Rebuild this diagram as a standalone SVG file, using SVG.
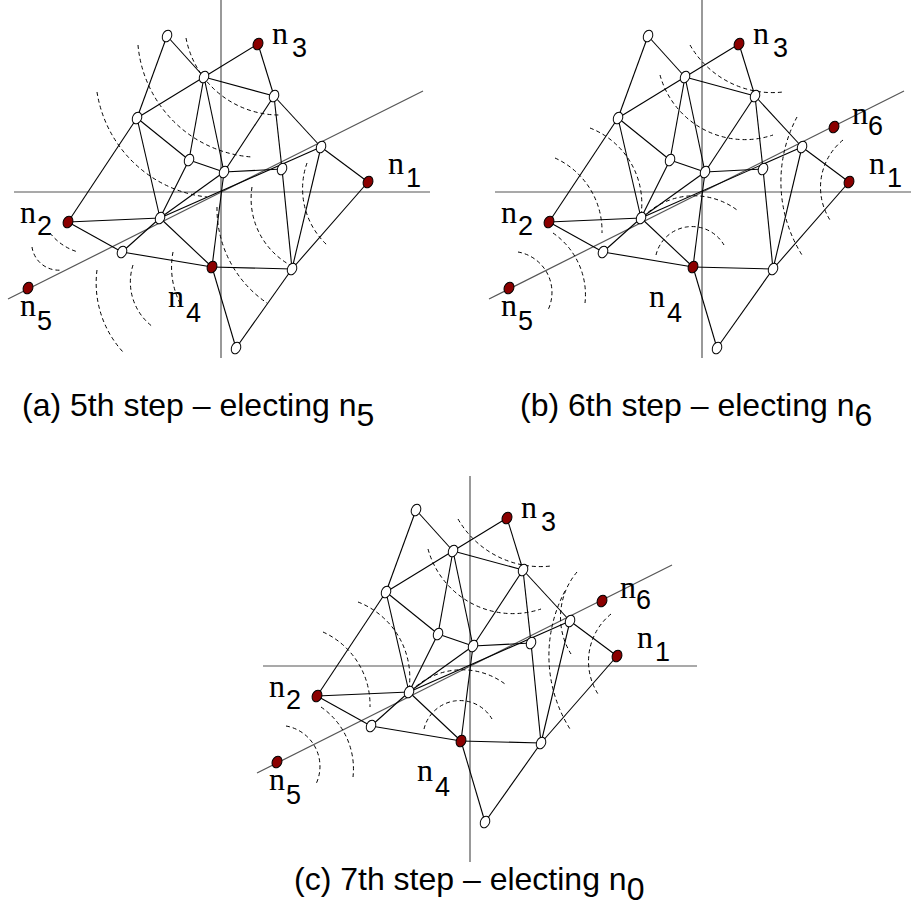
<svg xmlns="http://www.w3.org/2000/svg" width="917" height="919" viewBox="0 0 917 919">
<style>
.axis{stroke:#555;stroke-width:1.2;fill:none}
.arc{fill:none;stroke:#000;stroke-width:1;stroke-dasharray:4 3}
.wn{fill:#fff;stroke:#000;stroke-width:1}
.rn{fill:#8b0000;stroke:#000;stroke-width:1}
.ln{font-family:"Liberation Serif",serif;font-size:32px;fill:#000}
.ld{font-family:"Liberation Sans",sans-serif;font-size:27px;fill:#000}
.cap{font-family:"Liberation Sans",sans-serif;font-size:32px;fill:#000}
</style>
<defs>
<g id="edges-base" stroke="#000" stroke-width="1.1" fill="none">
<line x1="167" y1="36" x2="204" y2="77"/>
<line x1="167" y1="36" x2="137" y2="118"/>
<line x1="204" y1="77" x2="258" y2="44"/>
<line x1="204" y1="77" x2="137" y2="118"/>
<line x1="204" y1="77" x2="274" y2="96"/>
<line x1="204" y1="77" x2="189" y2="160"/>
<line x1="204" y1="77" x2="224" y2="172"/>
<line x1="258" y1="44" x2="274" y2="96"/>
<line x1="274" y1="96" x2="224" y2="172"/>
<line x1="274" y1="96" x2="282" y2="169"/>
<line x1="274" y1="96" x2="321" y2="147"/>
<line x1="137" y1="118" x2="189" y2="160"/>
<line x1="137" y1="118" x2="160" y2="218"/>
<line x1="137" y1="118" x2="68" y2="222"/>
<line x1="189" y1="160" x2="224" y2="172"/>
<line x1="189" y1="160" x2="160" y2="218"/>
<line x1="224" y1="172" x2="282" y2="169"/>
<line x1="224" y1="172" x2="212" y2="267"/>
<line x1="160" y1="218" x2="224" y2="172"/>
<line x1="160" y1="218" x2="321" y2="147"/>
<line x1="122" y1="252" x2="160" y2="218"/>
<line x1="68" y1="222" x2="160" y2="218"/>
<line x1="68" y1="222" x2="122" y2="252"/>
<line x1="122" y1="252" x2="212" y2="267"/>
<line x1="160" y1="218" x2="212" y2="267"/>
<line x1="282" y1="169" x2="292" y2="269"/>
<line x1="321" y1="147" x2="292" y2="269"/>
<line x1="321" y1="147" x2="368" y2="182"/>
<line x1="368" y1="182" x2="292" y2="269"/>
<line x1="292" y1="269" x2="212" y2="267"/>
<line x1="292" y1="269" x2="236" y2="348"/>
<line x1="212" y1="267" x2="236" y2="348"/>
</g>
</defs>

<!-- Panel (a) -->
<g id="panel-a">
<g id="a-axes">
<line class="axis" x1="221" y1="0" x2="221" y2="358"/>
<line class="axis" x1="14" y1="192" x2="430" y2="192"/>
<line class="axis" x1="8" y1="299" x2="423" y2="91"/>
</g>
<g id="a-arcs">
<path class="arc" d="M138,45 A123,123 0 0 0 252,157"/>
<path class="arc" d="M97,92 A125,125 0 0 0 207,197"/>
<path class="arc" d="M186,38 A95,95 0 0 0 280,115"/>
<path class="arc" d="M252,187 A76,76 0 0 0 290,265"/>
<path class="arc" d="M217,207 A114,114 0 0 0 267,303"/>
<path class="arc" d="M307,163 A77,77 0 0 0 327,245"/>
<path class="arc" d="M97,270 A102,102 0 0 0 123,352"/>
<path class="arc" d="M133,265 A56,56 0 0 0 153,327"/>
<path class="arc" d="M173,252 A81,81 0 0 0 182,307"/>
<path class="arc" d="M50,233 A55,55 0 0 0 78,252"/>
<path class="arc" d="M32,247 A27,27 0 0 0 62,270"/>
</g>
<g id="a-connectors"><use href="#edges-base"/></g>
<g id="a-A"><ellipse class="wn" cx="167" cy="36" rx="4.5" ry="6" transform="rotate(25 167 36)"/></g>
<g id="a-B"><ellipse class="wn" cx="204" cy="77" rx="4.5" ry="6" transform="rotate(25 204 77)"/></g>
<g id="a-C"><ellipse class="wn" cx="274" cy="96" rx="4.5" ry="6" transform="rotate(25 274 96)"/></g>
<g id="a-D"><ellipse class="wn" cx="137" cy="118" rx="4.5" ry="6" transform="rotate(25 137 118)"/></g>
<g id="a-E"><ellipse class="wn" cx="189" cy="160" rx="4.5" ry="6" transform="rotate(25 189 160)"/></g>
<g id="a-F"><ellipse class="wn" cx="224" cy="172" rx="4.5" ry="6" transform="rotate(25 224 172)"/></g>
<g id="a-G"><ellipse class="wn" cx="282" cy="169" rx="4.5" ry="6" transform="rotate(25 282 169)"/></g>
<g id="a-H"><ellipse class="wn" cx="321" cy="147" rx="4.5" ry="6" transform="rotate(25 321 147)"/></g>
<g id="a-I"><ellipse class="wn" cx="160" cy="218" rx="4.5" ry="6" transform="rotate(25 160 218)"/></g>
<g id="a-J"><ellipse class="wn" cx="122" cy="252" rx="4.5" ry="6" transform="rotate(25 122 252)"/></g>
<g id="a-K"><ellipse class="wn" cx="292" cy="269" rx="4.5" ry="6" transform="rotate(25 292 269)"/></g>
<g id="a-L"><ellipse class="wn" cx="236" cy="348" rx="4.5" ry="6" transform="rotate(25 236 348)"/></g>
<g id="a-n3"><ellipse class="rn" cx="258" cy="44" rx="4.7" ry="6" transform="rotate(25 258 44)"/><text class="ln" x="272" y="44">n</text><text class="ld" x="292" y="57">3</text></g>
<g id="a-n1"><ellipse class="rn" cx="368" cy="182" rx="4.7" ry="6" transform="rotate(25 368 182)"/><text class="ln" x="388" y="174">n</text><text class="ld" x="406" y="187">1</text></g>
<g id="a-n2"><ellipse class="rn" cx="68" cy="222" rx="4.7" ry="6" transform="rotate(25 68 222)"/><text class="ln" x="20" y="223">n</text><text class="ld" x="37" y="235">2</text></g>
<g id="a-n4"><ellipse class="rn" cx="212" cy="267" rx="4.7" ry="6" transform="rotate(25 212 267)"/><text class="ln" x="168" y="307">n</text><text class="ld" x="186" y="322">4</text></g>
<g id="a-n5"><ellipse class="rn" cx="28" cy="288" rx="4.7" ry="6" transform="rotate(25 28 288)"/><text class="ln" x="20" y="316">n</text><text class="ld" x="37" y="330">5</text></g>
</g>

<!-- Panel (b) -->
<g id="panel-b" transform="translate(481,0)">
<g id="b-axes">
<line class="axis" x1="221" y1="0" x2="221" y2="358"/>
<line class="axis" x1="14" y1="192" x2="430" y2="192"/>
<line class="axis" x1="8" y1="299" x2="423" y2="91"/>
</g>
<g id="b-arcs">
<path class="arc" d="M209,45 A95,95 0 0 0 302,92"/>
<path class="arc" d="M179,75 A88,88 0 0 0 292,135"/>
<path class="arc" d="M109,128 A81,81 0 0 1 160,215"/>
<path class="arc" d="M74,158 A80,80 0 0 1 121,233"/>
<path class="arc" d="M316,117 A138,138 0 0 0 321,255"/>
<path class="arc" d="M362,140 A61,61 0 0 0 349,220"/>
<path class="arc" d="M162,217 A72,72 0 0 1 256,210"/>
<path class="arc" d="M175,255 A37,37 0 0 1 243,245"/>
<path class="arc" d="M37,252 A41,41 0 0 1 67,310"/>
<path class="arc" d="M72,233 A75,75 0 0 1 104,303"/>
</g>
<g id="b-connectors"><use href="#edges-base"/></g>
<g id="b-A"><ellipse class="wn" cx="167" cy="36" rx="4.5" ry="6" transform="rotate(25 167 36)"/></g>
<g id="b-B"><ellipse class="wn" cx="204" cy="77" rx="4.5" ry="6" transform="rotate(25 204 77)"/></g>
<g id="b-C"><ellipse class="wn" cx="274" cy="96" rx="4.5" ry="6" transform="rotate(25 274 96)"/></g>
<g id="b-D"><ellipse class="wn" cx="137" cy="118" rx="4.5" ry="6" transform="rotate(25 137 118)"/></g>
<g id="b-E"><ellipse class="wn" cx="189" cy="160" rx="4.5" ry="6" transform="rotate(25 189 160)"/></g>
<g id="b-F"><ellipse class="wn" cx="224" cy="172" rx="4.5" ry="6" transform="rotate(25 224 172)"/></g>
<g id="b-G"><ellipse class="wn" cx="282" cy="169" rx="4.5" ry="6" transform="rotate(25 282 169)"/></g>
<g id="b-H"><ellipse class="wn" cx="321" cy="147" rx="4.5" ry="6" transform="rotate(25 321 147)"/></g>
<g id="b-I"><ellipse class="wn" cx="160" cy="218" rx="4.5" ry="6" transform="rotate(25 160 218)"/></g>
<g id="b-J"><ellipse class="wn" cx="122" cy="252" rx="4.5" ry="6" transform="rotate(25 122 252)"/></g>
<g id="b-K"><ellipse class="wn" cx="292" cy="269" rx="4.5" ry="6" transform="rotate(25 292 269)"/></g>
<g id="b-L"><ellipse class="wn" cx="236" cy="348" rx="4.5" ry="6" transform="rotate(25 236 348)"/></g>
<g id="b-n3"><ellipse class="rn" cx="258" cy="44" rx="4.7" ry="6" transform="rotate(25 258 44)"/><text class="ln" x="272" y="44">n</text><text class="ld" x="292" y="57">3</text></g>
<g id="b-n6"><ellipse class="rn" cx="353" cy="127" rx="4.7" ry="6" transform="rotate(25 353 127)"/><text class="ln" x="371" y="124">n</text><text class="ld" x="387" y="135">6</text></g>
<g id="b-n1"><ellipse class="rn" cx="368" cy="182" rx="4.7" ry="6" transform="rotate(25 368 182)"/><text class="ln" x="388" y="174">n</text><text class="ld" x="406" y="187">1</text></g>
<g id="b-n2"><ellipse class="rn" cx="68" cy="222" rx="4.7" ry="6" transform="rotate(25 68 222)"/><text class="ln" x="20" y="223">n</text><text class="ld" x="37" y="235">2</text></g>
<g id="b-n4"><ellipse class="rn" cx="212" cy="267" rx="4.7" ry="6" transform="rotate(25 212 267)"/><text class="ln" x="168" y="307">n</text><text class="ld" x="186" y="322">4</text></g>
<g id="b-n5"><ellipse class="rn" cx="28" cy="288" rx="4.7" ry="6" transform="rotate(25 28 288)"/><text class="ln" x="20" y="316">n</text><text class="ld" x="37" y="330">5</text></g>
</g>

<!-- Panel (c) -->
<g id="panel-c" transform="translate(249,474)">
<g id="c-axes">
<line class="axis" x1="221" y1="2" x2="221" y2="388"/>
<line class="axis" x1="14" y1="192" x2="448" y2="192"/>
<line class="axis" x1="8" y1="299" x2="423" y2="91"/>
</g>
<g id="c-arcs">
<path class="arc" d="M209,45 A95,95 0 0 0 302,92"/>
<path class="arc" d="M179,75 A88,88 0 0 0 292,135"/>
<path class="arc" d="M109,128 A81,81 0 0 1 160,215"/>
<path class="arc" d="M74,158 A80,80 0 0 1 121,233"/>
<path class="arc" d="M316,117 A138,138 0 0 0 321,255"/>
<path class="arc" d="M362,140 A61,61 0 0 0 349,220"/>
<path class="arc" d="M162,217 A72,72 0 0 1 256,210"/>
<path class="arc" d="M175,255 A37,37 0 0 1 243,245"/>
<path class="arc" d="M37,252 A41,41 0 0 1 67,310"/>
<path class="arc" d="M72,233 A75,75 0 0 1 104,303"/>
<path class="arc" d="M328,98 A70,70 0 0 0 322,180"/>
</g>
<g id="c-connectors"><use href="#edges-base"/></g>
<g id="c-A"><ellipse class="wn" cx="167" cy="36" rx="4.5" ry="6" transform="rotate(25 167 36)"/></g>
<g id="c-B"><ellipse class="wn" cx="204" cy="77" rx="4.5" ry="6" transform="rotate(25 204 77)"/></g>
<g id="c-C"><ellipse class="wn" cx="274" cy="96" rx="4.5" ry="6" transform="rotate(25 274 96)"/></g>
<g id="c-D"><ellipse class="wn" cx="137" cy="118" rx="4.5" ry="6" transform="rotate(25 137 118)"/></g>
<g id="c-E"><ellipse class="wn" cx="189" cy="160" rx="4.5" ry="6" transform="rotate(25 189 160)"/></g>
<g id="c-F"><ellipse class="wn" cx="224" cy="172" rx="4.5" ry="6" transform="rotate(25 224 172)"/></g>
<g id="c-G"><ellipse class="wn" cx="282" cy="169" rx="4.5" ry="6" transform="rotate(25 282 169)"/></g>
<g id="c-H"><ellipse class="wn" cx="321" cy="147" rx="4.5" ry="6" transform="rotate(25 321 147)"/></g>
<g id="c-I"><ellipse class="wn" cx="160" cy="218" rx="4.5" ry="6" transform="rotate(25 160 218)"/></g>
<g id="c-J"><ellipse class="wn" cx="122" cy="252" rx="4.5" ry="6" transform="rotate(25 122 252)"/></g>
<g id="c-K"><ellipse class="wn" cx="292" cy="269" rx="4.5" ry="6" transform="rotate(25 292 269)"/></g>
<g id="c-L"><ellipse class="wn" cx="236" cy="348" rx="4.5" ry="6" transform="rotate(25 236 348)"/></g>
<g id="c-n3"><ellipse class="rn" cx="258" cy="44" rx="4.7" ry="6" transform="rotate(25 258 44)"/><text class="ln" x="272" y="44">n</text><text class="ld" x="292" y="57">3</text></g>
<g id="c-n6"><ellipse class="rn" cx="353" cy="127" rx="4.7" ry="6" transform="rotate(25 353 127)"/><text class="ln" x="371" y="124">n</text><text class="ld" x="387" y="135">6</text></g>
<g id="c-n1"><ellipse class="rn" cx="368" cy="182" rx="4.7" ry="6" transform="rotate(25 368 182)"/><text class="ln" x="388" y="174">n</text><text class="ld" x="406" y="187">1</text></g>
<g id="c-n2"><ellipse class="rn" cx="68" cy="222" rx="4.7" ry="6" transform="rotate(25 68 222)"/><text class="ln" x="20" y="223">n</text><text class="ld" x="37" y="235">2</text></g>
<g id="c-n4"><ellipse class="rn" cx="212" cy="267" rx="4.7" ry="6" transform="rotate(25 212 267)"/><text class="ln" x="168" y="307">n</text><text class="ld" x="186" y="322">4</text></g>
<g id="c-n5"><ellipse class="rn" cx="28" cy="288" rx="4.7" ry="6" transform="rotate(25 28 288)"/><text class="ln" x="20" y="316">n</text><text class="ld" x="37" y="330">5</text></g>
</g>

<g id="captions">
<text class="cap" x="22" y="416">(a) 5th step – electing n<tspan dy="10">5</tspan></text>
<text class="cap" x="520" y="416">(b) 6th step – electing n<tspan dy="10">6</tspan></text>
<text class="cap" x="294" y="890">(c) 7th step – electing n<tspan dy="10">0</tspan></text>
</g>
</svg>
